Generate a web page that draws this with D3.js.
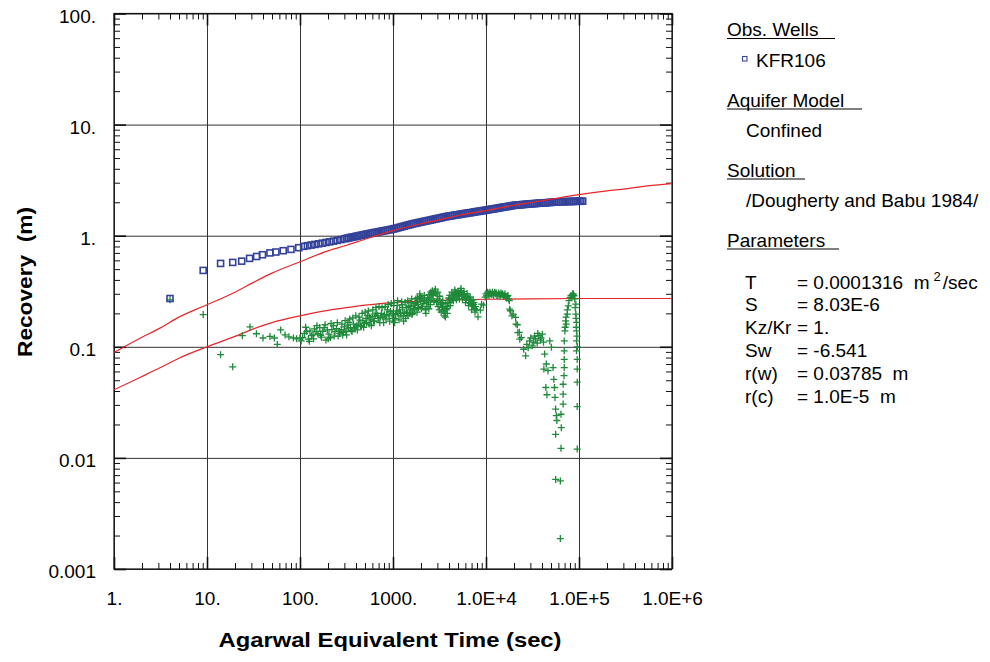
<!DOCTYPE html>
<html>
<head>
<meta charset="utf-8">
<script src="https://cdn.jsdelivr.net/npm/d3@7"></script>
<style>
  body { margin: 0; background: #fff; }
  svg { font-family: "Liberation Sans", Arial, sans-serif; }
</style>
</head>
<body>
<div id="chart"></div>
<script>
// Axis ticks and labels
const xTicks = [1, 10, 100, 1000, 1e4, 1e5, 1e6];
const xTickLabels = ["1.", "10.", "100.", "1000.", "1.0E+4", "1.0E+5", "1.0E+6"];
const yTicks = [0.001, 0.01, 0.1, 1, 10, 100];
const yTickLabels = ["0.001", "0.01", "0.1", "1.", "10.", "100."];

// Observed recovery, KFR106: [time (sec), recovery (m)]
const recovery = [
  [4.0, 0.272], [9.1, 0.487], [14, 0.563], [18.9, 0.575], [23.6, 0.59], [28.7, 0.625],
  [34.2, 0.65], [39.5, 0.674], [47.5, 0.70], [55, 0.713], [66, 0.733], [80, 0.753],
  [97, 0.78], [109.6, 0.802], [120.2, 0.813], [131.8, 0.824], [144.5, 0.834], [158.5, 0.845],
  [173.8, 0.857], [190.5, 0.869], [208.9, 0.881], [229.1, 0.893], [251.2, 0.908], [275.4, 0.923],
  [302.0, 0.938], [316.2, 0.946], [331.1, 0.955], [346.7, 0.962], [363.1, 0.971], [380.2, 0.977],
  [398.1, 0.986], [416.9, 0.993], [436.5, 1.002], [457.1, 1.009], [478.6, 1.019], [501.2, 1.026],
  [524.8, 1.035], [549.5, 1.042], [575.4, 1.050], [602.6, 1.059], [631.0, 1.067], [660.7, 1.074],
  [691.8, 1.081], [724.4, 1.089], [758.6, 1.099], [794.3, 1.107], [831.8, 1.114], [871.0, 1.122],
  [912.0, 1.130], [955.0, 1.140], [1000, 1.148], [1047, 1.159], [1096, 1.172], [1148, 1.183],
  [1202, 1.194], [1259, 1.208], [1318, 1.219], [1380, 1.233], [1445, 1.245], [1514, 1.256],
  [1585, 1.271], [1660, 1.282], [1738, 1.294], [1820, 1.303], [1905, 1.315], [1995, 1.324],
  [2089, 1.337], [2188, 1.349], [2291, 1.358], [2399, 1.371], [2512, 1.380], [2630, 1.393],
  [2754, 1.406], [2884, 1.416], [3020, 1.429], [3162, 1.439], [3311, 1.452], [3467, 1.466],
  [3631, 1.476], [3802, 1.489], [3981, 1.500], [4169, 1.507], [4365, 1.517], [4571, 1.528],
  [4786, 1.538], [5012, 1.545], [5248, 1.556], [5495, 1.567], [5754, 1.578], [6026, 1.585],
  [6310, 1.596], [6607, 1.607], [6918, 1.614], [7244, 1.626], [7586, 1.637], [7943, 1.648],
  [8318, 1.656], [8710, 1.667], [9120, 1.679], [9550, 1.687], [10000, 1.698], [10470, 1.710],
  [10960, 1.722], [11480, 1.734], [12020, 1.742], [12590, 1.754], [13180, 1.766], [13800, 1.778],
  [14450, 1.791], [15140, 1.803], [15850, 1.816], [16600, 1.824], [17380, 1.837], [18200, 1.849],
  [19050, 1.862], [19950, 1.875], [20890, 1.884], [21880, 1.888], [22910, 1.897], [23990, 1.901],
  [25120, 1.910], [26300, 1.914], [27540, 1.923], [28840, 1.928], [30200, 1.936], [31620, 1.941],
  [33110, 1.945], [34670, 1.950], [36310, 1.959], [38020, 1.963], [39810, 1.968], [41690, 1.972],
  [43650, 1.977], [45710, 1.986], [47860, 1.991], [50120, 1.995], [52480, 2.000], [54950, 2.004],
  [57540, 2.014], [60260, 2.018], [63100, 2.018], [66070, 2.023], [69180, 2.023], [72440, 2.028],
  [75860, 2.028], [79430, 2.032], [83180, 2.032], [87100, 2.037], [91200, 2.037], [95500, 2.042],
  [100000, 2.042], [104700, 2.042], [109600, 2.046]
];

// Recovery derivative: [time (sec), derivative (m)]
const derivative = [
  [4.0, 0.265], [9.1, 0.195], [14, 0.085], [18.9, 0.066], [24, 0.126], [29, 0.151],
  [34, 0.131], [40, 0.12], [47.5, 0.124], [53, 0.12], [57, 0.105], [62, 0.142],
  [69, 0.128], [76, 0.123], [85, 0.12], [92, 0.118], [100, 0.12], [103, 0.113], [107, 0.121],
  [112, 0.132], [115, 0.15], [118, 0.137], [123, 0.117], [126, 0.112], [128, 0.139], [133, 0.126],
  [138, 0.128], [140, 0.118], [143, 0.145], [149, 0.137], [152, 0.155], [156, 0.131], [163, 0.149],
  [167, 0.127], [170, 0.122], [176, 0.138], [182, 0.149], [186, 0.158], [190, 0.115], [197, 0.142],
  [201, 0.118], [205, 0.13], [212, 0.121], [216, 0.162], [220, 0.143], [229, 0.155], [233, 0.125],
  [238, 0.137], [247, 0.146], [252, 0.165], [257, 0.125], [262, 0.138], [267, 0.132], [277, 0.143],
  [282, 0.16], [288, 0.128], [294, 0.135], [300, 0.151], [306, 0.172], [311, 0.138], [317, 0.128],
  [323, 0.157], [330, 0.145], [336, 0.166], [343, 0.178], [350, 0.149], [356, 0.14], [363, 0.137],
  [370, 0.182], [376, 0.16], [384, 0.148], [391, 0.145], [398, 0.19], [406, 0.155], [414, 0.142],
  [423, 0.16], [431, 0.185], [440, 0.174], [448, 0.155], [457, 0.152], [466, 0.2], [475, 0.171],
  [484, 0.15], [493, 0.163], [502, 0.205], [512, 0.18], [522, 0.165], [532, 0.192], [543, 0.21],
  [553, 0.16], [563, 0.185], [574, 0.175], [585, 0.155], [596, 0.187], [607, 0.215], [619, 0.17],
  [631, 0.17], [644, 0.194], [656, 0.225], [669, 0.2], [681, 0.19], [694, 0.18], [707, 0.23],
  [721, 0.165], [735, 0.185], [750, 0.2], [764, 0.225], [778, 0.185], [793, 0.165], [808, 0.194],
  [824, 0.23], [840, 0.178], [856, 0.195], [872, 0.215], [888, 0.24], [905, 0.19], [922, 0.17],
  [940, 0.209], [958, 0.245], [976, 0.2], [995, 0.18], [1013, 0.235],
  [1020, 0.25], [1040, 0.165], [1050, 0.18], [1070, 0.195], [1090, 0.21], [1110, 0.235], [1120, 0.26],
  [1130, 0.2], [1160, 0.175], [1180, 0.215], [1200, 0.2], [1220, 0.19], [1240, 0.255], [1250, 0.24],
  [1270, 0.225], [1290, 0.19], [1300, 0.17], [1320, 0.205], [1350, 0.25], [1370, 0.18], [1390, 0.205],
  [1400, 0.225], [1420, 0.2], [1440, 0.26], [1450, 0.19], [1480, 0.23], [1510, 0.2], [1540, 0.215],
  [1560, 0.235], [1570, 0.25], [1590, 0.27], [1600, 0.195], [1620, 0.2], [1650, 0.235], [1680, 0.215],
  [1710, 0.22], [1730, 0.245], [1760, 0.27], [1780, 0.25], [1810, 0.205], [1830, 0.275], [1850, 0.24],
  [1880, 0.225], [1920, 0.27], [1940, 0.3], [1960, 0.285], [1990, 0.255], [2020, 0.22], [2040, 0.275],
  [2070, 0.23], [2110, 0.26], [2150, 0.245], [2170, 0.29], [2190, 0.27], [2230, 0.215], [2260, 0.2],
  [2290, 0.25], [2320, 0.23], [2370, 0.275], [2410, 0.26], [2430, 0.22], [2450, 0.295], [2500, 0.28],
  [2520, 0.24], [2550, 0.31], [2600, 0.3], [2620, 0.265], [2650, 0.32], [2700, 0.29], [2730, 0.3],
  [2760, 0.255], [2800, 0.315], [2850, 0.33], [2900, 0.3], [2950, 0.25], [3000, 0.27], [3030, 0.31],
  [3060, 0.23], [3120, 0.26], [3150, 0.215], [3180, 0.285], [3240, 0.24], [3300, 0.205], [3330, 0.25],
  [3360, 0.225], [3400, 0.23], [3430, 0.26], [3490, 0.21], [3530, 0.23], [3560, 0.19], [3620, 0.2],
  [3660, 0.185], [3700, 0.245], [3730, 0.215], [3760, 0.22], [3830, 0.2], [3860, 0.23], [3900, 0.25],
  [3980, 0.275], [4050, 0.27], [4080, 0.29], [4120, 0.235], [4160, 0.25], [4200, 0.265], [4290, 0.31],
  [4330, 0.27], [4370, 0.29], [4460, 0.26], [4500, 0.28], [4540, 0.3], [4620, 0.325], [4660, 0.29],
  [4710, 0.31], [4800, 0.265], [4850, 0.3], [4890, 0.29], [4980, 0.315], [5030, 0.285], [5080, 0.305],
  [5180, 0.27], [5230, 0.3], [5280, 0.32], [5380, 0.335], [5430, 0.31], [5480, 0.295], [5590, 0.27],
  [5640, 0.285], [5690, 0.3], [5800, 0.315], [5860, 0.295], [5910, 0.28], [6020, 0.25], [6080, 0.265],
  [6140, 0.27], [6260, 0.3], [6320, 0.28], [6380, 0.285], [6500, 0.235], [6560, 0.27], [6620, 0.25],
  [6750, 0.28], [6810, 0.245], [6880, 0.26], [7000, 0.215], [7070, 0.25], [7140, 0.235], [7280, 0.265],
  [7350, 0.24], [7420, 0.25], [7560, 0.22], [7620, 0.205], [7700, 0.23], [7850, 0.215],
  [8200, 0.186], [8700, 0.214], [8950, 0.242], [9400, 0.237],
  [9800, 0.28], [10000, 0.3], [10200, 0.288], [10400, 0.31], [10600, 0.3], [10800, 0.29], [11000, 0.31],
  [11200, 0.3], [11500, 0.295], [11700, 0.31], [11900, 0.298], [12100, 0.29], [12400, 0.31], [12600, 0.3],
  [12900, 0.305], [13100, 0.29], [13400, 0.29], [13700, 0.305], [14000, 0.295], [14200, 0.285],
  [14500, 0.305], [14800, 0.295], [15100, 0.3], [15400, 0.285], [15700, 0.29], [16000, 0.3],
  [16300, 0.28], [16600, 0.275], [16900, 0.285], [17200, 0.29], [17500, 0.27], [17800, 0.26],
  [18000, 0.218], [18300, 0.211], [19000, 0.19], [19600, 0.197], [20800, 0.184], [21000, 0.16],
  [21700, 0.158], [22000, 0.134], [22800, 0.135], [23100, 0.117], [24000, 0.121], [25400, 0.095],
  [26700, 0.083], [27500, 0.105], [28400, 0.098], [29400, 0.113], [30300, 0.12], [31400, 0.102],
  [32600, 0.11], [33200, 0.125], [34200, 0.118], [35500, 0.108], [36000, 0.132], [37100, 0.126],
  [38500, 0.115], [39000, 0.12], [40400, 0.13], [41500, 0.11],
  [41900, 0.063], [42700, 0.086], [44500, 0.07], [46400, 0.061], [44000, 0.043], [45200, 0.037],
  [48500, 0.113], [50500, 0.099], [52600, 0.065], [53600, 0.051], [54500, 0.043], [55200, 0.035],
  [56100, 0.0275], [57000, 0.024], [57800, 0.0217], [64000, 0.0247], [64500, 0.0187], [56100, 0.0163],
  [64000, 0.0122], [56100, 0.0064], [63000, 0.0062], [63000, 0.00188], [67500, 0.0305], [67500, 0.0375],
  [67500, 0.046], [69000, 0.055], [69400, 0.065], [69400, 0.077], [69400, 0.092], [69400, 0.113],
  [70500, 0.139], [71000, 0.15], [71900, 0.171], [72500, 0.185], [73000, 0.16], [74900, 0.197],
  [75000, 0.215], [76700, 0.234], [78000, 0.26], [80300, 0.278], [82000, 0.29], [84000, 0.28],
  [85600, 0.298], [87000, 0.3], [88300, 0.288], [90000, 0.27], [91000, 0.225], [92500, 0.242],
  [92500, 0.197], [93000, 0.18], [93500, 0.15], [94100, 0.166], [94100, 0.139], [94100, 0.113],
  [94100, 0.092], [95000, 0.125], [96000, 0.1], [95700, 0.077], [95700, 0.063], [95700, 0.048],
  [95700, 0.029], [95700, 0.012]
];

// Fitted type curves (Dougherty-Babu): [time (sec), value (m)]
const fitRecovery = [
  [1, 0.089], [2, 0.122], [3.16, 0.148], [5, 0.185], [10, 0.239], [20, 0.31], [31.6, 0.38],
  [50, 0.46], [100, 0.583], [200, 0.73], [316, 0.82], [500, 0.93], [1000, 1.11], [2000, 1.28],
  [3162, 1.39], [5000, 1.52], [10000, 1.68], [20000, 1.88], [31600, 2.0], [50000, 2.13],
  [100000, 2.34], [200000, 2.53], [316000, 2.64], [500000, 2.78], [1000000, 2.94]
];
const fitDerivative = [
  [1, 0.041], [2, 0.054], [3.16, 0.065], [5, 0.079], [10, 0.10], [20, 0.124], [31.6, 0.145],
  [50, 0.165], [100, 0.19], [200, 0.213], [316, 0.225], [500, 0.237], [1000, 0.25], [2000, 0.258],
  [3162, 0.262], [5000, 0.265], [10000, 0.268], [30000, 0.27], [100000, 0.272], [1000000, 0.272]
];

// Legend / parameter text
const wellNames = ["KFR106"];
const aquiferModel = "Confined";
const solutionName = "/Dougherty and Babu 1984/";
const paramNames = ["T", "S", "Kz/Kr", "Sw", "r(w)", "r(c)"];
const paramValues = ["0.0001316", "8.03E-6", "1.", "-6.541", "0.03785", "1.0E-5"];
const paramUnits = ["m", "", "", "", "m", "m"];

const width = 990, height = 662;
const margin = { top: 13.5, right: 318, bottom: 93, left: 114 };
const plotW = width - margin.left - margin.right;
const plotH = height - margin.top - margin.bottom;

const svg = d3.select("#chart").append("svg")
  .attr("width", width)
  .attr("height", height);

const g = svg.append("g").attr("transform", `translate(${margin.left},${margin.top})`);

const x = d3.scaleLog().domain([1, 1e6]).range([0, plotW]);
const y = d3.scaleLog().domain([0.001, 100]).range([plotH, 0]);

// minor ticks 2..9 in every decade
const minorX = [], minorY = [];
for (let e = 0; e < 6; e++) for (let k = 2; k < 10; k++) minorX.push(k * Math.pow(10, e));
for (let e = -3; e < 2; e++) for (let k = 2; k < 10; k++) minorY.push(+(k * Math.pow(10, e)).toPrecision(3));

// grid lines at decades
g.append("g")
  .attr("transform", `translate(0,${plotH})`)
  .call(d3.axisBottom(x).tickValues(xTicks).tickSize(-plotH).tickFormat(""))
  .call(a => a.select(".domain").remove())
  .selectAll("line").attr("stroke", "#333").attr("stroke-width", 1);
g.append("g")
  .call(d3.axisLeft(y).tickValues(yTicks).tickSize(-plotW).tickFormat(""))
  .call(a => a.select(".domain").remove())
  .selectAll("line").attr("stroke", "#333").attr("stroke-width", 1);

// inside minor and major ticks on all four sides
const tickSides = [
  { axis: d3.axisBottom(x), pos: `translate(0,${plotH})`, minor: minorX, major: xTicks },
  { axis: d3.axisTop(x), pos: "translate(0,0)", minor: minorX, major: xTicks },
  { axis: d3.axisLeft(y), pos: "translate(0,0)", minor: minorY, major: yTicks },
  { axis: d3.axisRight(y), pos: `translate(${plotW},0)`, minor: minorY, major: yTicks }
];
tickSides.forEach(s => {
  g.append("g").attr("transform", s.pos)
    .call(s.axis.tickValues(s.minor).tickSize(-6).tickFormat(""))
    .call(a => a.select(".domain").remove())
    .selectAll("line").attr("stroke", "#111").attr("stroke-width", 1);
  g.append("g").attr("transform", s.pos)
    .call(s.axis.tickValues(s.major).tickSize(-12).tickFormat(""))
    .call(a => a.select(".domain").remove())
    .selectAll("line").attr("stroke", "#111").attr("stroke-width", 1.6);
});

// frame
g.append("rect")
  .attr("width", plotW).attr("height", plotH)
  .attr("fill", "none").attr("stroke", "#111").attr("stroke-width", 1.2);

// tick labels
g.append("g")
  .attr("transform", `translate(0,${plotH})`)
  .call(d3.axisBottom(x).tickValues(xTicks).tickSize(0).tickPadding(23)
    .tickFormat((d, i) => xTickLabels[i]))
  .call(a => a.select(".domain").remove())
  .selectAll("text")
  .attr("fill", "#000").style("font-size", "19px")
  .style("font-family", "'Liberation Sans', Arial, sans-serif");
g.append("g")
  .call(d3.axisLeft(y).tickValues(yTicks).tickSize(0).tickPadding(18)
    .tickFormat((d, i) => yTickLabels[i]))
  .call(a => a.select(".domain").remove())
  .selectAll("text")
  .attr("fill", "#000").attr("dy", "0.45em").style("font-size", "19px")
  .style("font-family", "'Liberation Sans', Arial, sans-serif");

// axis titles (the wide glyphs are stretched to their set length)
svg.append("text")
  .attr("x", 390).attr("y", 646.5)
  .attr("text-anchor", "middle")
  .attr("textLength", 343).attr("lengthAdjust", "spacingAndGlyphs")
  .style("font-size", "21px").style("font-weight", "bold")
  .text("Agarwal Equivalent Time (sec)");
svg.append("text")
  .attr("transform", "translate(32,282) rotate(-90)")
  .attr("text-anchor", "middle")
  .attr("xml:space", "preserve")
  .attr("textLength", 150).attr("lengthAdjust", "spacingAndGlyphs")
  .style("white-space", "pre")
  .style("font-size", "21px").style("font-weight", "bold")
  .text("Recovery  (m)");

// clip marks to plot area
svg.append("clipPath").attr("id", "plot-clip")
  .append("rect").attr("width", plotW).attr("height", plotH);
const marks = g.append("g").attr("clip-path", "url(#plot-clip)");

// fitted curves
const line = d3.line().x(d => x(d[0])).y(d => y(d[1])).curve(d3.curveMonotoneX);
marks.append("path")
  .datum(fitDerivative)
  .attr("fill", "none")
  .attr("stroke", "#e8262a")
  .attr("stroke-width", 1.2)
  .attr("d", line);

// derivative crosses
const cs = 3.5;
marks.append("g").selectAll("path")
  .data(derivative)
  .join("path")
  .attr("d", d => {
    const px = x(d[0]), py = y(d[1]);
    return `M${px - cs},${py}H${px + cs}M${px},${py - cs}V${py + cs}`;
  })
  .attr("stroke", "#1e8a3a")
  .attr("stroke-width", 1.3)
  .attr("fill", "none");

// recovery squares
const sq = 6;
marks.append("g").selectAll("rect")
  .data(recovery)
  .join("rect")
  .attr("x", d => x(d[0]) - sq / 2)
  .attr("y", d => y(d[1]) - sq / 2)
  .attr("width", sq).attr("height", sq)
  .attr("fill", "none")
  .attr("stroke", "#34429a")
  .attr("stroke-width", 1.6);

// the fitted recovery curve is drawn over the squares
marks.append("path")
  .datum(fitRecovery)
  .attr("fill", "none")
  .attr("stroke", "#e8262a")
  .attr("stroke-width", 1.2)
  .attr("d", line);

// legend and parameter panel
const panel = svg.append("g")
  .style("font-size", "19px")
  .style("font-family", "'Liberation Sans', Arial, sans-serif");

const heading = (label, yPos, lineEnd) => {
  panel.append("text").attr("x", 727).attr("y", yPos).text(label);
  panel.append("line")
    .attr("x1", 727).attr("x2", lineEnd)
    .attr("y1", yPos + 2.5).attr("y2", yPos + 2.5)
    .attr("stroke", "#000").attr("stroke-width", 1);
};

heading("Obs. Wells", 36, 835);
wellNames.forEach((w, i) => {
  panel.append("rect")
    .attr("x", 742.5).attr("y", 56.5 + i * 23)
    .attr("width", 4.5).attr("height", 4.5)
    .attr("fill", "none").attr("stroke", "#3a4899").attr("stroke-width", 1.1);
  panel.append("text").attr("x", 756).attr("y", 66.5 + i * 23).text(w);
});
heading("Aquifer Model", 106.5, 862);
panel.append("text").attr("x", 746).attr("y", 136.5).text(aquiferModel);
heading("Solution", 176.5, 805);
panel.append("text").attr("x", 746).attr("y", 206.5).text(solutionName);
heading("Parameters", 246.5, 839);

paramNames.forEach((p, i) => {
  const yPos = 288.5 + i * 22.8;
  panel.append("text").attr("x", 745).attr("y", yPos).text(p);
  const t = panel.append("text").attr("x", 797).attr("y", yPos)
    .attr("xml:space", "preserve").style("white-space", "pre")
    .text(`= ${paramValues[i]}`);
  if (i === 0) {
    t.append("tspan").text("  m");
    t.append("tspan").attr("dy", -8).attr("dx", 4).style("font-size", "13px").text("2");
    t.append("tspan").attr("dy", 8).attr("dx", 2).text("/sec");
  } else if (paramUnits[i]) {
    t.append("tspan").text("  " + paramUnits[i]);
  }
});
</script>
</body>
</html>
